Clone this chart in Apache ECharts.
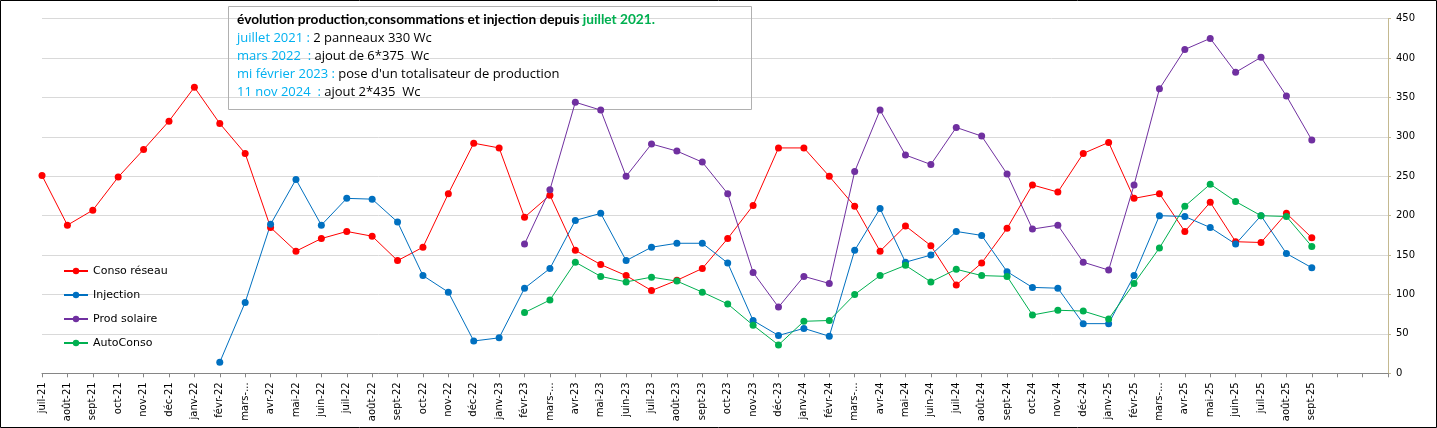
<!DOCTYPE html>
<html>
<head>
<meta charset="utf-8">
<script src="https://cdn.jsdelivr.net/npm/echarts@6/dist/echarts.min.js"></script>
<style>
html,body{margin:0;padding:0;background:#fff;}
#chart{width:1437px;height:428px;}
</style>
</head>
<body>
<div id="chart"></div>
<script>
const categories = ['juil-21','août-21','sept-21','oct-21','nov-21','déc-21','janv-22','févr-22','mars-22','avr-22','mai-22','juin-22','juil-22','août-22','sept-22','oct-22','nov-22','déc-22','janv-23','févr-23','mars-23','avr-23','mai-23','juin-23','juil-23','août-23','sept-23','oct-23','nov-23','déc-23','janv-24','févr-24','mars-24','avr-24','mai-24','juin-24','juil-24','août-24','sept-24','oct-24','nov-24','déc-24','janv-25','févr-25','mars-25','avr-25','mai-25','juin-25','juil-25','août-25','sept-25','','',''];
const tickLabels = ['juil-21','août-21','sept-21','oct-21','nov-21','déc-21','janv-22','févr-22','mars-...','avr-22','mai-22','juin-22','juil-22','août-22','sept-22','oct-22','nov-22','déc-22','janv-23','févr-23','mars-...','avr-23','mai-23','juin-23','juil-23','août-23','sept-23','oct-23','nov-23','déc-23','janv-24','févr-24','mars-...','avr-24','mai-24','juin-24','juil-24','août-24','sept-24','oct-24','nov-24','déc-24','janv-25','févr-25','mars-...','avr-25','mai-25','juin-25','juil-25','août-25','sept-25','','',''];
const consoReseau = [251,188,207,249,284,320,363,317,279,185,155,171,180,174,143,160,228,292,286,198,226,156,138,124,105,118,133,171,213,286,286,250,212,155,187,162,112,140,184,239,230,279,293,222,228,180,217,167,166,203,172];
const injection = [null,null,null,null,null,null,null,14,90,189,246,188,222,221,192,124,103,41,45,108,133,194,203,143,160,165,165,140,67,48,57,47,156,209,141,150,180,175,129,109,108,63,63,124,200,199,185,164,200,152,134];
const prodSolaire = [null,null,null,null,null,null,null,null,null,null,null,null,null,null,null,null,null,null,null,164,233,344,334,250,291,282,268,228,128,84,123,114,256,334,277,265,312,301,253,183,188,141,131,239,361,411,425,382,401,352,296];
const autoConso = [null,null,null,null,null,null,null,null,null,null,null,null,null,null,null,null,null,null,null,77,93,141,123,116,122,117,103,88,61,36,66,67,100,124,137,116,132,124,123,74,80,79,69,114,159,212,240,218,200,199,161];
const yTicks = {min:0, max:450, interval:50};

const chart = echarts.init(document.getElementById('chart'), null, {renderer:'canvas'});
const FONT = 'DejaVu Sans';
function mk(name, data, color){
  return {name:name, type:'line', data:data, symbol:'circle', symbolSize:7, z:5,
    itemStyle:{color:color}, lineStyle:{color:color, width:1}, connectNulls:false, animation:false};
}
const option = {
  animation:false,
  backgroundColor:'#fff',
  grid:{left:42, right:49, top:18.7, bottom:54.7, containLabel:false},
  legend:{orient:'vertical', left:63, top:264, padding:0, itemGap:10, itemWidth:24, itemHeight:8,
    textStyle:{fontFamily:FONT, fontSize:11, color:'#000', lineHeight:14},
    data:['Conso réseau','Injection','Prod solaire','AutoConso']},
  xAxis:{type:'category', data:categories, boundaryGap:false,
    axisLine:{lineStyle:{color:'#868686'}},
    axisTick:{show:true, alignWithLabel:true, length:4, lineStyle:{color:'#868686'}, interval:0},
    axisLabel:{interval:0, rotate:90, margin:9, fontFamily:FONT, fontSize:10, color:'#000',
      formatter:function(v, i){return tickLabels[i];}},
    splitLine:{show:false}},
  yAxis:{type:'value', position:'right', min:yTicks.min, max:yTicks.max, interval:yTicks.interval,
    axisLine:{show:true, lineStyle:{color:'#C4B990'}},
    axisTick:{show:true, length:3, lineStyle:{color:'#C4B990'}},
    axisLabel:{margin:8, fontFamily:FONT, fontSize:10, color:'#000'},
    splitLine:{lineStyle:{color:'#D9D9D9'}}},
  series:[
    mk('Conso réseau', consoReseau, '#FF0000'),
    mk('Injection', injection, '#0070C0'),
    mk('Prod solaire', prodSolaire, '#7030A0'),
    mk('AutoConso', autoConso, '#00B050')
  ],
  graphic:[
    {type:'rect', z:100, silent:true, shape:{x:0.5,y:0.5,width:1436,height:427}, style:{fill:null, stroke:'#000', lineWidth:1}},
    {type:'rect', z:1, silent:true, shape:{x:228.5,y:6.5,width:523,height:103}, style:{fill:null, stroke:'#B0B0B0', lineWidth:1}},
    {type:'text', z:1, silent:true, x:237, y:11, style:{
      text:'{b|évolution production,consommations et injection depuis }{g|juillet 2021.}\n{c|juillet 2021 : }{k|2 panneaux 330 Wc}\n{c|mars 2022  : }{k|ajout de 6*375  Wc}\n{c|mi février 2023 : }{k|pose d\'un totalisateur de production}\n{c|11 nov 2024  : }{k|ajout 2*435  Wc}',
      font:'13px "Open Sans"', lineHeight:18, fill:'#000',
      rich:{
        b:{fontFamily:'Lato', fontSize:13.7, fontWeight:'bold', fill:'#000', lineHeight:18},
        g:{fontFamily:'Lato', fontSize:13.7, fontWeight:'bold', fill:'#00B050', lineHeight:18},
        c:{fontFamily:'Open Sans', fontSize:13, fill:'#00B0F0', lineHeight:18},
        k:{fontFamily:'Open Sans', fontSize:13, fill:'#000', lineHeight:18}
      }}}
  ]
};
chart.setOption(option);
</script>
</body>
</html>
